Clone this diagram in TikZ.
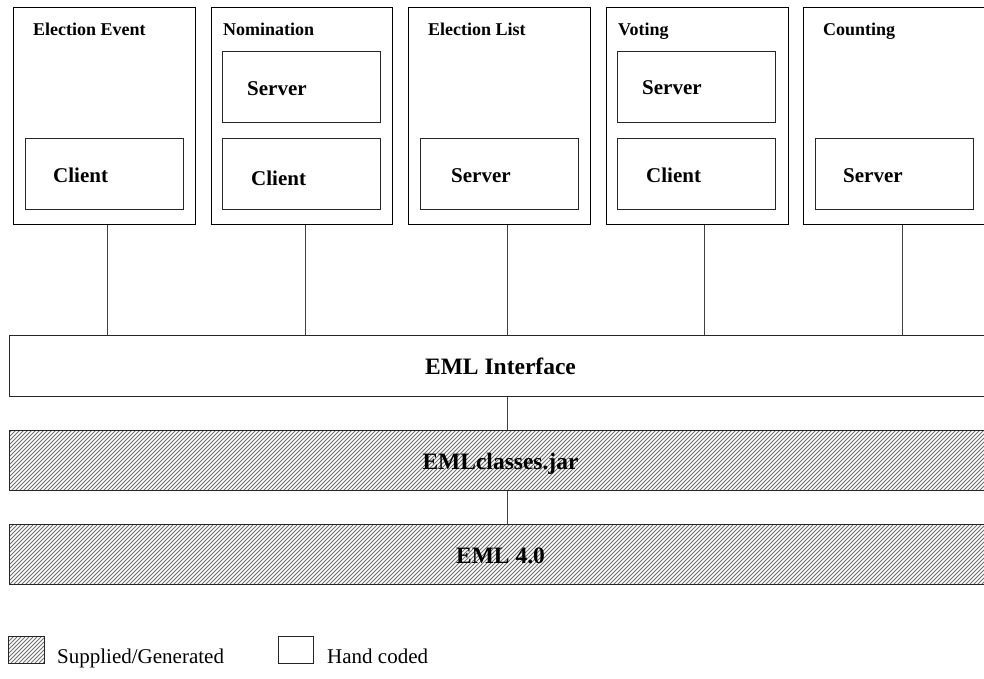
\documentclass[tikz,border=0pt]{standalone}
\usepackage{fontspec}
\setmainfont{Liberation Serif}
\usetikzlibrary{patterns.meta,calc}
\begin{document}
\begin{tikzpicture}[x=1pt,y=-1pt,
  phase/.style={draw=black,line width=1pt,anchor=north west,inner sep=0pt,
    minimum width=182pt,minimum height=217pt},
  role/.style={draw=black!85,line width=0.9pt,anchor=north west,inner sep=0pt,
    minimum width=158pt,minimum height=71pt},
  phasetitle/.style={anchor=base west,inner sep=0pt,font=\fontsize{18}{20}\selectfont\bfseries},
  roletitle/.style={anchor=base west,inner sep=0pt,font=\fontsize{21}{24}\selectfont\bfseries},
  layer/.style={draw=black!85,line width=1pt,anchor=north west,inner sep=0pt,
    minimum width=982pt,font=\fontsize{23.5}{26}\selectfont\bfseries,
    text height=17pt,text depth=0pt},
  hatched/.style={pattern={Lines[angle=45,distance=2.8284pt,line width=1pt]},
    pattern color=black!55},
  link/.style={draw=black!75,line width=1pt},
  legendtext/.style={anchor=base west,inner sep=0pt,font=\fontsize{21}{24}\selectfont},
]
\clip (0,0) rectangle (984,678);
\fill[white] (0,0) rectangle (984,678);

% phase boxes
\node[phase] (ee) at (13,7) {};
\node[phase,minimum width=181pt] (nom) at (211,7) {};
\node[phase] (el) at (408,7) {};
\node[phase] (vot) at (606,7) {};
\node[phase] (cnt) at (803,7) {};

\node[phasetitle] (eet) at ([shift={(20,28)}]ee.north west) {Election Event};
\node[phasetitle] (nomt) at ([shift={(12,28)}]nom.north west) {Nomination};
\node[phasetitle] (elt) at ([shift={(20,28)}]el.north west) {Election List};
\node[phasetitle] (vott) at ([shift={(12,28)}]vot.north west) {Voting};
\node[phasetitle] (cntt) at ([shift={(20,28)}]cnt.north west) {Counting};

% client / server parts
\node[role] (eec) at (25,138) {};
\node[role] (noms) at (222,51) {};
\node[role] (nomc) at (222,138) {};
\node[role] (els) at (420,138) {};
\node[role] (vots) at (617,51) {};
\node[role] (votc) at (617,138) {};
\node[role] (cnts) at (815,138) {};

\node[roletitle] (eecl) at ([shift={(28,8.5)}]eec.west) {Client};
\node[roletitle] (nomsl) at ([shift={(25,8.5)}]noms.west) {Server};
\node[roletitle] (nomcl) at ([shift={(29,11.5)}]nomc.west) {Client};
\node[roletitle] (elsl) at ([shift={(31,8.5)}]els.west) {Server};
\node[roletitle] (votsl) at ([shift={(25,8)}]vots.west) {Server};
\node[roletitle] (votcl) at ([shift={(29,8.5)}]votc.west) {Client};
\node[roletitle] (cntsl) at ([shift={(28,8.5)}]cnts.west) {Server};

% layers
\node[layer,minimum height=61pt] (iface) at (9,335) {EML Interface};
\node[layer,hatched,minimum height=60pt] (jar) at (9,430) {EMLclasses.jar};
\node[layer,hatched,minimum height=60pt] (eml) at (9,524) {EML 4.0};

% connectors
\draw[link] ([xshift=3pt]ee.south) -- ([xshift=3pt]ee.south |- iface.north);
\draw[link] ([xshift=3.5pt]nom.south) -- ([xshift=3.5pt]nom.south |- iface.north);
\draw[link] ([xshift=8pt]el.south) -- ([xshift=8pt]el.south |- iface.north);
\draw[link] ([xshift=7pt]vot.south) -- ([xshift=7pt]vot.south |- iface.north);
\draw[link] ([xshift=8pt]cnt.south) -- ([xshift=8pt]cnt.south |- iface.north);
\draw[link] ([xshift=7pt]iface.south) -- ([xshift=7pt]iface.south |- jar.north);
\draw[link] ([xshift=7pt]jar.south) -- ([xshift=7pt]jar.south |- eml.north);

% legend
\node[draw=black!85,line width=0.9pt,hatched,anchor=north west,inner sep=0pt,
  minimum width=36pt,minimum height=27pt] (keysup) at (8,636) {};
\node[legendtext] (keysupt) at (57,663) {Supplied/Generated};
\node[draw=black!85,line width=0.9pt,anchor=north west,inner sep=0pt,
  minimum width=35pt,minimum height=27pt] (keyhand) at (278,636) {};
\node[legendtext] (keyhandt) at (327,663) {Hand coded};
\end{tikzpicture}
\end{document}
